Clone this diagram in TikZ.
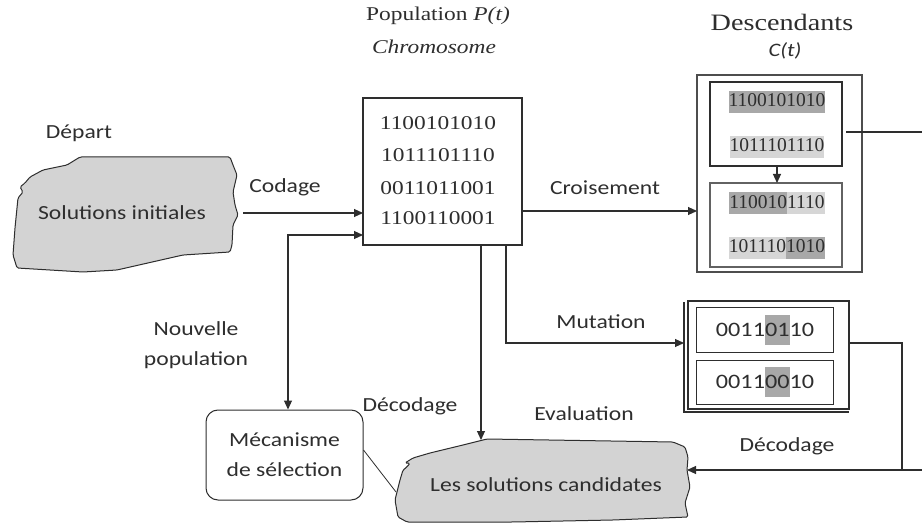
\documentclass[tikz,border=0pt]{standalone}
\usepackage{fontspec}
\setmainfont{Liberation Serif}
\newfontfamily\labelfont[FakeStretch=1.18]{Carlito}
\newfontfamily\widefont[FakeStretch=1.2]{Liberation Serif}
\newfontfamily\bitfont{Liberation Serif}
\usetikzlibrary{arrows.meta}
\definecolor{blobfill}{HTML}{D3D3D3}
\definecolor{bitdark}{HTML}{A8A8A8}
\definecolor{bitlight}{HTML}{D6D6D6}
\definecolor{ink}{HTML}{2E2E2E}
% shaded runs of bits
\newcommand\bitbg[2]{{\setlength{\fboxsep}{0pt}\colorbox{#1}{\rule[-6pt]{0pt}{22pt}#2}}}
\newcommand\bittall[2]{{\setlength{\fboxsep}{0pt}\colorbox{#1}{\rule[-9pt]{0pt}{30pt}#2}}}
\begin{document}
\begin{tikzpicture}[x=1pt,y=-1pt,
  lbl/.style={font=\labelfont\fontsize{20}{30}\selectfont, text=ink, inner sep=0pt, align=center},
  clab/.style={font=\labelfont\itshape\fontsize{19}{22}\selectfont, text=ink, inner sep=0pt},
  ttl/.style={font=\widefont\fontsize{19.5}{24}\selectfont, text=ink, inner sep=0pt},
  bigttl/.style={font=\widefont\fontsize{23.5}{28}\selectfont, text=ink, inner sep=0pt},
  popbits/.style={font=\widefont\fontsize{19.5}{24}\selectfont, text=ink, inner sep=0pt},
  descbits/.style={font=\bitfont\fontsize{19.5}{24}\selectfont, text=ink, inner sep=0pt},
  mutbits/.style={font=\labelfont\fontsize{20.5}{24}\selectfont, text=ink, inner sep=0pt},
  box/.style={draw=ink, line width=1.1pt, inner sep=0pt, outer sep=0pt},
  blob/.style={draw=ink, line width=1pt, fill=blobfill, rounded corners=1.5pt},
  link/.style={draw=ink, line width=1.1pt},
  arr/.style={link, -{Triangle[length=9pt,width=8pt]}},
  dblarr/.style={link, {Triangle[length=9pt,width=8pt]}-{Triangle[length=9pt,width=8pt]}},
]
\fill[white] (0,0) rectangle (922,524);
\useasboundingbox (0,0) rectangle (922,524);

% ---- initial solutions (irregular blob)
\draw[blob] (80,157) -- (230,157) -- (233,165) -- (237,175) -- (233,192) -- (235,205)
  -- (238,215) -- (233,225) -- (232,245) -- (230,252) -- (183,255) -- (117,270)
  -- (83,272) -- (17,268) -- (13,255) -- (15,228) -- (18,198) -- (23,192) -- (20,187)
  -- (25,183) -- (30,177) -- (43,170) -- (67,165) -- cycle;
\node[lbl] (sinit) at (122,213) {Solutions initiales};
\coordinate (sinitR) at (243,213);
\node[lbl] (depart) at (79,133) {Départ};

% ---- population P(t)
\node[ttl] (poptitle) at (438,16) {Population \textit{P(t)}};
\node[ttl] (chromo) at (434,47) {\textit{Chromosome}};
\node[box, minimum width=159pt, minimum height=147pt] (pop) at (442.5,171.5) {};
\node[popbits] (p1) at (438,123) {1100101010};
\node[popbits] (p2) at (438,155) {1011101110};
\node[popbits] (p3) at (438,188) {0011011001};
\node[popbits] (p4) at (438,218) {1100110001};

% ---- offspring C(t)
\node[bigttl] (desctitle) at (782,22) {Descendants};
\node[clab] (ct) at (785,51) {C(t)};
\node[box, draw=ink!85, minimum width=165pt, minimum height=197pt] (desc) at (779.5,173.5) {};
\node[box, line width=1.3pt, minimum width=132pt, minimum height=84pt] (dtop) at (776,124) {};
\node[box, draw=ink!75, line width=1.3pt, minimum width=132pt, minimum height=84pt] (dbot) at (776,225) {};
\node[descbits] (d1) at (777,102) {\bitbg{bitdark}{1100101010}};
\node[descbits] (d2) at (777,147) {\bitbg{bitlight}{1011101110}};
\node[descbits] (d3) at (777,203) {\bitbg{bitdark}{110010}\bitbg{bitlight}{1110}};
\node[descbits] (d4) at (777,248) {\bitbg{bitlight}{101110}\bitbg{bitdark}{1010}};
\draw[arr] (dtop.south -| d1) -- (dbot.north -| d1);

% ---- mutation
\node[box, minimum width=161pt, minimum height=108pt] (mutbox) at (768.5,355) {};
\draw[link] (684,302) -- (684,412) -- (849,412);
\node[box, line width=1pt, minimum width=137pt, minimum height=45pt] (mtop) at (764.5,329.5) {};
\node[box, line width=1pt, minimum width=137pt, minimum height=44pt] (mbot) at (764.5,382) {};
\node[mutbits] (m1) at (765,330) {0011\bittall{bitdark}{01}10};
\node[mutbits] (m2) at (765,382) {0011\bittall{bitdark}{00}10};

% ---- selection
\node[draw=ink, line width=1pt, rounded corners=12pt, minimum width=157pt, minimum height=90pt,
      inner sep=0pt] (mec) at (284.5,455) {};
\node[lbl] (mectext) at (284.5,455) {Mécanisme\\de sélection};

% ---- candidate solutions (irregular blob)
\draw[blob] (487,439) -- (673,442) -- (685,447) -- (688,457) -- (687,470) -- (690,487)
  -- (685,503) -- (688,517) -- (613,520) -- (513,522) -- (407,522) -- (398,517)
  -- (395,500) -- (400,480) -- (403,470) -- (407,467) -- (410,463) -- (405,463)
  -- (413,458) -- (430,453) -- (463,445) -- cycle;
\node[lbl] (cand) at (546,485) {Les solutions candidates};
\coordinate (candTop) at (481,440);
\coordinate (candR) at (687,470);
\coordinate (candL) at (396,492);

% ---- connector anchors
\coordinate (nvp) at (288,235);
\coordinate (cross) at (0,211);
\coordinate (mutbend) at (506,343);
\coordinate (dout) at (846,132);
\coordinate (exitA) at (922,132);
\coordinate (mout) at (849,343);
\coordinate (mcorner) at (902,343);
\coordinate (exitB) at (922,470);

% ---- connectors
\draw[arr] (sinitR) -- (pop.west |- sinitR);
\draw[dblarr] (mec.north -| nvp) -- (nvp) -- (pop.west |- nvp);
\draw[arr] (pop.east |- cross) -- (desc.west |- cross);
\draw[arr] (pop.south -| mutbend) -- (mutbend) -- ([xshift=-4pt]mutbox.west |- mutbend);
\draw[arr] (pop.south -| candTop) -- (candTop);
\draw[link] (dout) -- (exitA);
\draw[link] (mout) -- (mcorner) |- (exitB);
\draw[arr] (mcorner |- exitB) -- (candR);
\draw[link, line width=0.8pt] ([yshift=5pt]mec.east) -- (candL);

% ---- labels
\node[lbl] (codage) at (285,187) {Codage};
\node[lbl] (crois) at (605,188) {Croisement};
\node[lbl] (mutlab) at (601,322) {Mutation};
\node[lbl] (nouv) at (196,345) {Nouvelle\\population};
\node[lbl] (decA) at (410,406) {Décodage};
\node[lbl] (evalab) at (584,414) {Evaluation};
\node[lbl] (decB) at (787,446) {Décodage};
\end{tikzpicture}
\end{document}
